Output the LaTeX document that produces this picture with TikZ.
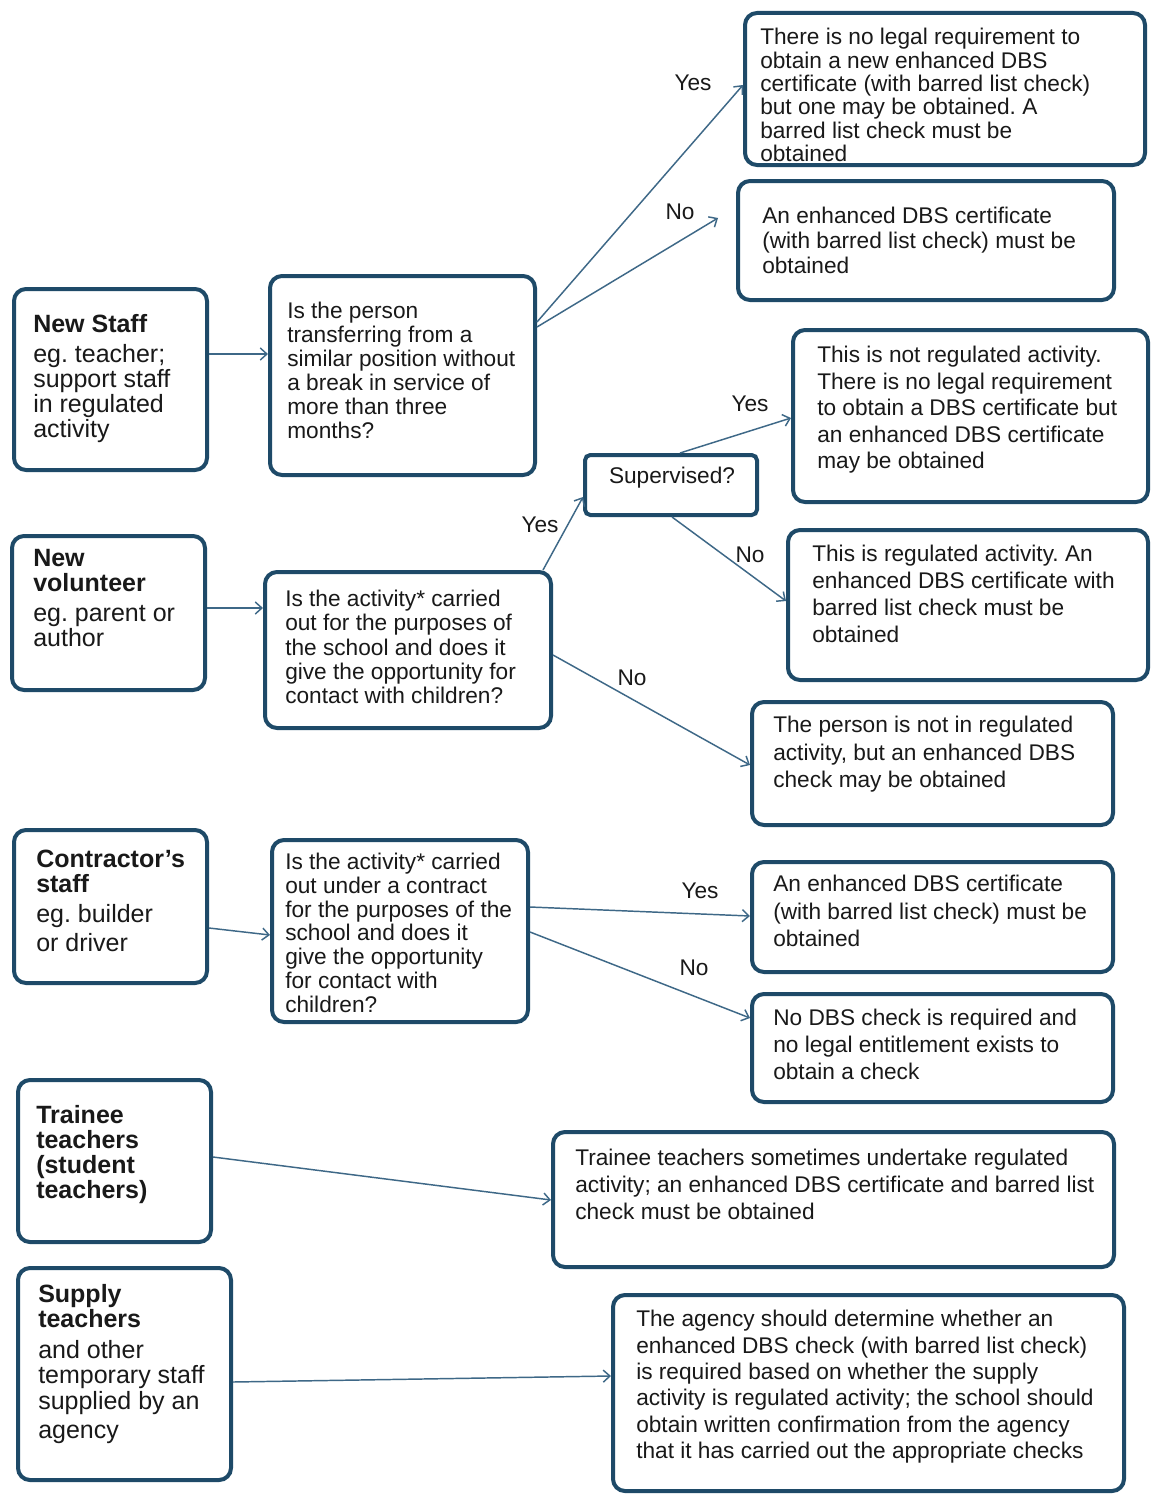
\documentclass[tikz,border=0pt]{standalone}
\usepackage{fontspec}
\setmainfont{Liberation Sans}
\usetikzlibrary{arrows.meta,fit}
\definecolor{boxc}{RGB}{30,74,104}
\definecolor{arrc}{RGB}{62,104,135}
\definecolor{txtc}{RGB}{25,25,25}
\frenchspacing
\tikzset{
  box/.style={draw=boxc, line width=3pt, rounded corners=9pt, inner sep=0pt, fill=white},
  txt/.style={anchor=north west, inner sep=0pt, align=left, text=txtc, font=\fontsize{17}{#1}\selectfont},
  ltxt/.style={anchor=north west, inner sep=0pt, align=left, text=txtc, font=\fontsize{18.75}{#1}\selectfont},
  lab/.style={inner sep=0pt, text=txtc, font=\fontsize{17}{20}\selectfont},
  arr/.style={draw=arrc, line width=1.1pt, -{Straight Barb[length=5pt,width=9pt]}},
}
\begin{document}
\begin{tikzpicture}[x=0.75pt,y=-0.75pt]
\fill[white] (0,0) rectangle (1150,1495);
\useasboundingbox (0,0) rectangle (1150,1495);

% boxes
\node[box, fit={(14,289) (207,470)}] (ns) {};
\node[box, fit={(12,536) (205,690)}] (nv) {};
\node[box, fit={(14,830) (207,983)}] (cs) {};
\node[box, fit={(18,1080) (211,1242)}] (tt) {};
\node[box, fit={(18,1268) (231,1480)}] (st) {};
\node[box, fit={(270,276) (535,475)}] (q1) {};
\node[box, fit={(265,572) (551,728)}] (q2) {};
\node[box, fit={(272,840) (528,1022)}] (q3) {};
\node[box, rounded corners=4pt, fit={(585,455) (757,515)}] (sup) {};
\node[box, fit={(745,13) (1145,165)}] (r1) {};
\node[box, fit={(738,181) (1114,300)}] (r2) {};
\node[box, fit={(793,330) (1148,502)}] (r3) {};
\node[box, fit={(788,530) (1148,680)}] (r4) {};
\node[box, fit={(752,702) (1113,825)}] (r5) {};
\node[box, fit={(752,862) (1113,972)}] (r6) {};
\node[box, fit={(752,994) (1113,1102)}] (r7) {};
\node[box, fit={(553,1132) (1114,1267)}] (r8) {};
\node[box, fit={(613,1295) (1124,1491)}] (r9) {};

% free end
\coordinate (r2in) at (718,218);

% connectors
\draw[arr] (ns.east |- 0,354) -- (q1.west |- 0,354);
\draw[arr] (q1.east |- 0,322) -- (r1.west |- 0,85);
\draw[arr] (q1.east |- 0,327) -- (r2in);
\draw[arr] (nv.east |- 0,608) -- (q2.west |- 0,608);
\draw[arr] (q2.north -| 543,0) -- (sup.west |- 0,497);
\draw[arr] (sup.north -| 680,0) -- (r3.west |- 0,418);
\draw[arr] (sup.south -| 672,0) -- (r4.west |- 0,601);
\draw[arr] (q2.east |- 0,655) -- (r5.west |- 0,765);
\draw[arr] (cs.east |- 0,928) -- (q3.west |- 0,935);
\draw[arr] (q3.east |- 0,907) -- (r6.west |- 0,916);
\draw[arr] (q3.east |- 0,932) -- (r7.west |- 0,1018);
\draw[arr] (tt.east |- 0,1157) -- (r8.west |- 0,1200);
\draw[arr] (st.east |- 0,1382) -- (r9.west |- 0,1376);

% labels
\node[lab] (l1) at (693,83) {Yes};
\node[lab] (l2) at (680,212) {No};
\node[lab] (l3) at (750,404) {Yes};
\node[lab] (l4) at (540,525) {Yes};
\node[lab] (l5) at (750,555) {No};
\node[lab] (l6) at (632,678) {No};
\node[lab] (l7) at (700,891) {Yes};
\node[lab] (l8) at (694,968) {No};

% left texts
\node[ltxt=18.75] (nsT) at (33,314.6) {\textbf{New Staff}\\[3.5pt]eg. teacher;\\support staff\\in regulated\\activity};
\node[ltxt=18.75] (nvT) at (33,548.6) {\textbf{New}\\\textbf{volunteer}\\[4pt]eg. parent or\\author};
\node[ltxt=18.75] (csT) at (36,849.6) {\textbf{Contractor's}\\\textbf{staff}\\[4pt]eg. builder\\[3pt]or driver};
\node[ltxt=18.75] (ttT) at (36,1105.6) {\textbf{Trainee}\\\textbf{teachers}\\\textbf{(student}\\\textbf{teachers)}};
\node[ltxt=19.5] (stT) at (38,1283.6) {\textbf{Supply}\\\textbf{teachers}\\[3pt]and other\\temporary staff\\supplied by an\\[2pt]agency};

% middle texts
\node[txt=18] (q1T) at (287,302) {Is the person\\transferring from a\\similar position without\\a break in service of\\more than three\\months?};
\node[txt=18.2] (q2T) at (285,590) {Is the activity* carried\\out for the purposes of\\the school and does it\\give the opportunity for\\contact with children?};
\node[txt=17.8] (q3T) at (285,853) {Is the activity* carried\\out under a contract\\for the purposes of the\\school and does it\\give the opportunity\\for contact with\\children?};
\node[lab] (supT) at (672,478) {Supervised?};

% right texts
\node[txt=17.55] (r1T) at (760,28) {There is no legal requirement to\\obtain a new enhanced DBS\\certificate (with barred list check)\\but one may be obtained. A\\barred list check must be\\obtained};
\node[txt=18.75] (r2T) at (762,207) {An enhanced DBS certificate\\(with barred list check) must be\\obtained};
\node[txt=19.9] (r3T) at (817,346) {This is not regulated activity.\\There is no legal requirement\\to obtain a DBS certificate but\\an enhanced DBS certificate\\may be obtained};
\node[txt=20.25] (r4T) at (812,545) {This is regulated activity. An\\enhanced DBS certificate with\\barred list check must be\\obtained};
\node[txt=20.6] (r5T) at (773,716) {The person is not in regulated\\activity, but an enhanced DBS\\check may be obtained};
\node[txt=20.6] (r6T) at (773,875) {An enhanced DBS certificate\\(with barred list check) must be\\obtained};
\node[txt=20.25] (r7T) at (773,1009) {No DBS check is required and\\no legal entitlement exists to\\obtain a check};
\node[txt=20.25] (r8T) at (575,1149) {Trainee teachers sometimes undertake regulated\\activity; an enhanced DBS certificate and barred list\\check must be obtained};
\node[txt=19.8] (r9T) at (636,1310) {The agency should determine whether an\\enhanced DBS check (with barred list check)\\is required based on whether the supply\\activity is regulated activity; the school should\\obtain written confirmation from the agency\\that it has carried out the appropriate checks};
\end{tikzpicture}
\end{document}
